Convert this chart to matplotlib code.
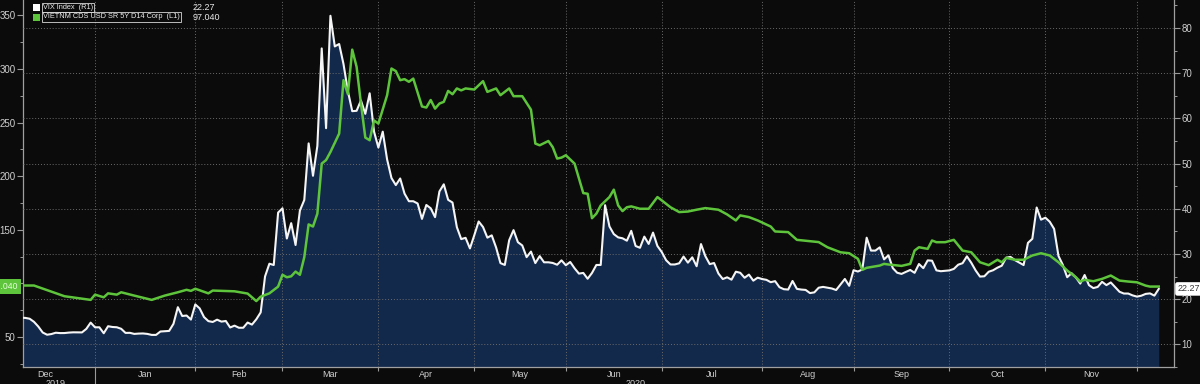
import numpy as np
import pandas as pd
import matplotlib
matplotlib.use("Agg")
import matplotlib.pyplot as plt
import matplotlib.transforms as mtransforms
from matplotlib.patches import Rectangle
from matplotlib import font_manager

# weekday calendar used by the chart (one slot per weekday)
dates = pd.bdate_range("2019-12-09", "2020-12-08")

# VIX Index, right axis (one value per weekday slot)
vix = [
    15.9, 15.86, 15.68, 14.99, 13.94, 12.63, 12.14, 12.29, 12.58, 12.50,
    12.51, 12.61, 12.67, 12.67, 12.65, 13.43, 14.82, 13.78, 13.78, 12.47,
    14.02, 13.85, 13.79, 13.45, 12.54, 12.56, 12.32, 12.39, 12.42, 12.32,
    12.10, 12.10, 12.85, 12.91, 12.98, 14.56, 18.23, 16.28, 16.39, 15.49,
    18.84, 17.97, 16.05, 15.15, 14.96, 15.47, 15.04, 15.18, 13.74, 14.15,
    13.68, 13.68, 14.83, 14.38, 15.56, 17.08, 25.03, 27.85, 27.56, 39.16,
    40.11, 33.42, 36.82, 31.99, 39.62, 41.94, 54.46, 47.30, 53.90, 75.47,
    57.83, 82.69, 75.91, 76.45, 72.00, 66.04, 61.59, 61.67, 63.95, 61.00,
    65.54, 57.08, 53.54, 57.06, 50.91, 46.80, 45.24, 46.70, 43.35, 41.67,
    41.67, 41.17, 37.76, 40.84, 40.11, 38.15, 43.83, 45.41, 41.98, 41.38,
    35.93, 33.29, 33.57, 31.23, 34.15, 37.19, 35.97, 33.61, 34.12, 31.44,
    27.98, 27.57, 33.04, 35.28, 32.61, 31.89, 29.30, 30.53, 27.99, 29.53,
    28.16, 28.16, 28.01, 27.62, 28.59, 27.51, 28.23, 26.84, 25.66, 25.81,
    24.52, 25.81, 27.57, 27.57, 40.79, 36.09, 34.40, 33.67, 33.47, 32.94,
    35.12, 31.77, 31.37, 33.84, 32.22, 34.73, 31.78, 30.43, 28.62, 27.68,
    27.68, 27.94, 29.43, 28.08, 29.26, 27.29, 32.19, 29.52, 27.76, 28.00,
    25.68, 24.46, 24.84, 24.32, 26.08, 25.84, 24.74, 25.44, 24.10, 24.76,
    24.46, 24.28, 23.76, 23.99, 22.65, 22.21, 22.13, 24.03, 22.28, 22.13,
    22.05, 21.35, 21.51, 22.54, 22.72, 22.54, 22.37, 22.03, 23.27, 24.47,
    22.96, 26.41, 26.12, 26.57, 33.60, 30.75, 30.75, 31.46, 28.81, 29.71,
    26.87, 25.85, 25.59, 26.04, 26.46, 25.83, 27.78, 26.86, 28.58, 28.51,
    26.38, 26.19, 26.27, 26.37, 26.70, 27.63, 27.96, 29.48, 28.06, 26.36,
    25.00, 25.07, 26.07, 26.40, 26.97, 27.41, 29.18, 29.35, 28.65, 28.11,
    27.55, 32.46, 33.35, 40.28, 37.59, 38.02, 37.13, 35.55, 29.57, 27.58,
    24.86, 25.75, 24.80, 23.45, 25.35, 23.10, 22.45, 22.71, 23.84, 23.11,
    23.70, 22.66, 21.64, 21.25, 21.25, 20.84, 20.57, 20.77, 21.17, 21.28,
    20.79, 22.27,
]

# Vietnam 5Y CDS, left axis
cds_dates = [
    "2019-12-09", "2019-12-12", "2019-12-23", "2019-12-31", "2020-01-01",
    "2020-01-03", "2020-01-06", "2020-01-08", "2020-01-09", "2020-01-14",
    "2020-01-20", "2020-01-23", "2020-01-28", "2020-01-30", "2020-01-31",
    "2020-02-03", "2020-02-06", "2020-02-07", "2020-02-14", "2020-02-19",
    "2020-02-21", "2020-02-24", "2020-02-26", "2020-02-28", "2020-03-02",
    "2020-03-03", "2020-03-04", "2020-03-05", "2020-03-06", "2020-03-09",
    "2020-03-10", "2020-03-11", "2020-03-12", "2020-03-13", "2020-03-16",
    "2020-03-17", "2020-03-18", "2020-03-19", "2020-03-20", "2020-03-23",
    "2020-03-24", "2020-03-25", "2020-03-26", "2020-03-27", "2020-03-30",
    "2020-03-31", "2020-04-01", "2020-04-03", "2020-04-06", "2020-04-07",
    "2020-04-08", "2020-04-09", "2020-04-10", "2020-04-13", "2020-04-15",
    "2020-04-16", "2020-04-17", "2020-04-20", "2020-04-21", "2020-04-22",
    "2020-04-23", "2020-04-24", "2020-04-27", "2020-04-28", "2020-04-29",
    "2020-05-01", "2020-05-05", "2020-05-06", "2020-05-08", "2020-05-11",
    "2020-05-13", "2020-05-14", "2020-05-18", "2020-05-20", "2020-05-21",
    "2020-05-22", "2020-05-26", "2020-05-27", "2020-05-28", "2020-05-29",
    "2020-06-01", "2020-06-03", "2020-06-05", "2020-06-08", "2020-06-09",
    "2020-06-10", "2020-06-11", "2020-06-15", "2020-06-16", "2020-06-17",
    "2020-06-18", "2020-06-19", "2020-06-22", "2020-06-24", "2020-06-26",
    "2020-06-30", "2020-07-01", "2020-07-03", "2020-07-07", "2020-07-09",
    "2020-07-13", "2020-07-15", "2020-07-20", "2020-07-22", "2020-07-24",
    "2020-07-27", "2020-07-29", "2020-07-31", "2020-08-05", "2020-08-06",
    "2020-08-11", "2020-08-13", "2020-08-18", "2020-08-20", "2020-08-24",
    "2020-08-27", "2020-08-31", "2020-09-02", "2020-09-03", "2020-09-04",
    "2020-09-09", "2020-09-10", "2020-09-11", "2020-09-16", "2020-09-18",
    "2020-09-21", "2020-09-22", "2020-09-24", "2020-09-25", "2020-09-28",
    "2020-09-30", "2020-10-02", "2020-10-06", "2020-10-08", "2020-10-12",
    "2020-10-14", "2020-10-16", "2020-10-19", "2020-10-20", "2020-10-22",
    "2020-10-26", "2020-10-28", "2020-10-30", "2020-11-03", "2020-11-05",
    "2020-11-09", "2020-11-11", "2020-11-12", "2020-11-13", "2020-11-17",
    "2020-11-19", "2020-11-23", "2020-11-25", "2020-11-27", "2020-12-01",
    "2020-12-03", "2020-12-04", "2020-12-08",
]
cds = [
    98, 98, 88, 84.6, 89.5,
    87, 90.7, 89.5, 91.7, 88.6,
    84.6, 88.6, 91.7, 94, 93,
    95, 90.7, 93.3, 92.6, 90.5,
    83.5, 87.6, 90.7, 97, 108,
    105.7, 106.6, 111, 108, 124.4,
    155, 153, 165, 211.7, 215,
    222.5, 231, 239.7, 289.5, 276.5,
    318, 302, 267.7, 236, 233.5,
    252, 249, 275.5, 300.4, 298,
    289.5, 290.5, 288, 291, 265,
    264, 271, 263, 267.7, 269.3,
    279.5, 276.4, 281.8, 280, 281.8,
    280.8, 288.6, 278.6, 281.8, 275.5,
    281.8, 274.6, 274.6, 262, 230.4,
    228.8, 232.8, 227, 216.4, 217.3,
    219.5, 211.7, 184.2, 183.6, 160.8,
    165, 172.7, 180.5, 187.4, 172.7,
    167.4, 171, 171.8, 169.6, 169.6,
    180.5, 177.4, 171, 166.5, 167,
    168.7, 170.2, 168.7, 164.3, 158.7,
    163.4, 161.8, 158.7, 153, 148.4,
    147.8, 140.6, 139.4, 138.5, 133.7,
    129, 128.1, 122.9, 112.6, 114.5,
    116.6, 118.2, 117.6, 116.3, 118.2,
    130.6, 133.7, 132.2, 140, 138.4,
    138.4, 140.6, 130.6, 129, 119.7,
    117, 122, 119.7, 123.8, 122,
    122, 126, 128.1, 126, 119.7,
    112, 105.7, 101.7, 103.3, 102,
    104.2, 107.3, 102.6, 101.7, 101,
    97.9, 97, 97.04,
]

month_firsts = ["2019-12-01", "2020-01-01", "2020-02-01", "2020-03-01", "2020-04-01",
                "2020-05-01", "2020-06-01", "2020-07-01", "2020-08-01", "2020-09-01",
                "2020-10-01", "2020-11-01", "2020-12-01"]
month_names = ["Dec", "Jan", "Feb", "Mar", "Apr", "May", "Jun", "Jul", "Aug", "Sep", "Oct", "Nov"]

# left axis ticks; 100 sits under the last-value tag
cds_ticks = [50, 100, 150, 200, 250, 300, 350]
cds_ticklabels = ["50", "", "150", "200", "250", "300", "350"]

vix_label = "VIX Index  (R1)"
cds_label = "VIETNM CDS USD SR 5Y D14 Corp  (L1)"
vix_last = "22.27"
cds_last = "97.040"

# colours
BG = "#0b0b0b"
NAVY = "#13294c"
GREEN = "#5ec43c"
GRID = "#6a6a6a"
TXT = "#cfcfcf"

names = {f.name for f in font_manager.fontManager.ttflist}
FONT = "Liberation Sans Narrow" if "Liberation Sans Narrow" in names else "Liberation Sans"
plt.rcParams["font.family"] = [FONT, "DejaVu Sans"]

W, H = 1200, 384
start = dates[0].strftime("%Y-%m-%d")
x = np.arange(len(dates))
x_cds = np.busday_count(start, cds_dates)
m_pos = np.busday_count(start, month_firsts)
m_mid = (m_pos[:-1] + m_pos[1:]) / 2

fig = plt.figure(figsize=(W / 100, H / 100), dpi=100, facecolor=BG)
ax = fig.add_axes([23 / W, 17 / H, 1151 / W, 367 / H])
ax.set_facecolor(BG)

# VIX on the right axis, filled area + white line
ax.fill_between(x, vix, 0, color=NAVY, lw=0, zorder=1)
ax.plot(x, vix, color="#f5f5f5", lw=1.5, zorder=3)
ax.set_ylim(5.14, 86.18)
ax.set_xlim(0.48, 264.5)

ax.set_xticks(m_pos[1:])
ax.set_xticklabels([])
ax.set_xticks(m_mid, minor=True)
ax.set_xticklabels(month_names, minor=True)
ax.tick_params(axis="x", which="major", length=3, width=0.8, color="#9a9a9a")
ax.tick_params(axis="x", which="minor", length=0, pad=2, labelsize=6.5, labelcolor=TXT)
# year boundary tick is longer
ax.xaxis.get_major_ticks()[0].tick1line.set_markersize(13)

ax.set_axisbelow(False)
ax.grid(True, which="major", axis="x", color=GRID, linestyle=(0, (1, 2)), linewidth=0.7)
ax.spines["top"].set_visible(False)
for side in ["left", "right", "bottom"]:
    ax.spines[side].set_color("#a0a0a0")
    ax.spines[side].set_linewidth(0.9)

# CDS on the left axis
ax2 = ax.twinx()
ax2.plot(x_cds, cds, color=GREEN, lw=1.8, zorder=4)
ax2.set_ylim(22.0, 364.3)
for s in ax2.spines.values():
    s.set_visible(False)

# twinx moves the first axis to the left, so place both explicitly
ax.yaxis.tick_right()
ax.yaxis.set_label_position("right")
ax2.yaxis.tick_left()
ax2.yaxis.set_label_position("left")

ax.set_yticks(range(10, 81, 10))
ax.set_yticks(range(5, 86, 5), minor=True)
ax.grid(True, which="major", axis="y", color=GRID, linestyle=(0, (1, 2)), linewidth=0.7)
ax.tick_params(axis="y", which="major", length=4, width=0.8, color="#9a9a9a",
               labelsize=7, labelcolor=TXT, pad=1.5)
ax.tick_params(axis="y", which="minor", length=2.5, width=0.7, color="#9a9a9a")

ax2.set_yticks(cds_ticks)
ax2.set_yticklabels(cds_ticklabels)
ax2.set_yticks(range(25, 351, 25), minor=True)
ax2.tick_params(axis="y", which="major", length=4, width=0.8, color="#9a9a9a",
                labelsize=7, labelcolor=TXT, pad=1.5)
ax2.tick_params(axis="y", which="minor", length=2.5, width=0.7, color="#9a9a9a")

# year labels under the month labels
blend = mtransforms.blended_transform_factory(ax.transData, fig.transFigure)
ax.text(m_mid[0] + 2.5, 1 - 378.5 / H, "2019", transform=blend, ha="center", va="top",
        fontsize=6.5, color=TXT, clip_on=False)
ax.text(m_mid[6] + 5, 1 - 378.5 / H, "2020", transform=blend, ha="center", va="top",
        fontsize=6.5, color=TXT, clip_on=False)

# last value tags
tr_r = mtransforms.blended_transform_factory(ax.transAxes, ax.transData)
ax.text(1.003, vix[-1], vix_last, transform=tr_r, ha="left", va="center", fontsize=6.5,
        color="#3a3a3a", clip_on=False, zorder=10,
        bbox=dict(boxstyle="round,pad=0.25", fc="white", ec="none"))
tr_l = mtransforms.blended_transform_factory(ax2.transAxes, ax2.transData)
ax2.text(-0.004, cds[-1], cds_last, transform=tr_l, ha="right", va="center", fontsize=6.2,
         color="#e4ffd8", clip_on=False, zorder=10,
         bbox=dict(boxstyle="square,pad=0.3", fc=GREEN, ec="none"))

# legend block
def fx(px):
    return px / W


def fy(py):
    return 1 - py / H


fig.add_artist(Rectangle((fx(33), fy(11)), 7 / W, 7 / H, transform=fig.transFigure,
                         fc="white", ec="none"))
fig.add_artist(Rectangle((fx(33), fy(20.5)), 7 / W, 7 / H, transform=fig.transFigure,
                         fc=GREEN, ec="none"))
fig.text(fx(43), fy(7.5), vix_label, ha="left", va="center", fontsize=5.3, color="#e8e8e8",
         bbox=dict(boxstyle="square,pad=0.15", fc="none", ec="#d8d8d8", lw=0.6))
fig.text(fx(43), fy(17), cds_label, ha="left", va="center", fontsize=5.3, color="#e8e8e8",
         bbox=dict(boxstyle="square,pad=0.15", fc="none", ec="#d8d8d8", lw=0.6))
fig.text(fx(193), fy(7.5), vix_last, ha="left", va="center", fontsize=6.5, color="#e8e8e8")
fig.text(fx(193), fy(17), cds_last, ha="left", va="center", fontsize=6.5, color="#e8e8e8")

fig.savefig("out.png", dpi=100, facecolor=BG)
